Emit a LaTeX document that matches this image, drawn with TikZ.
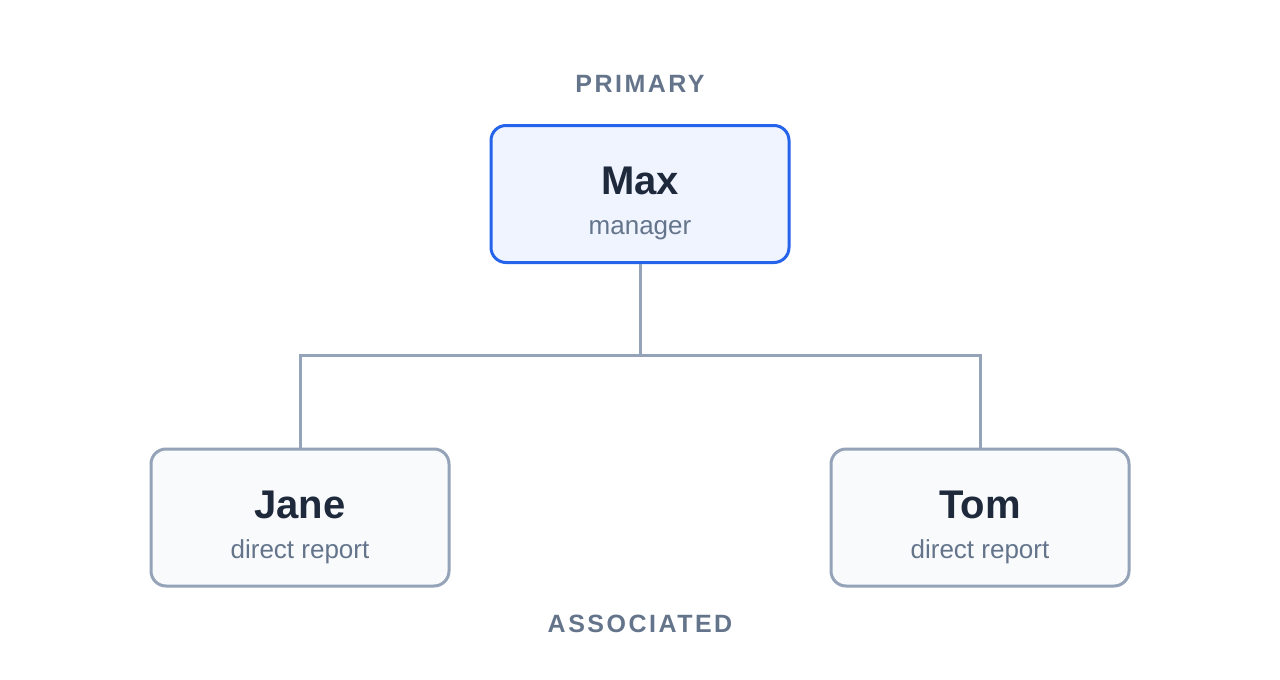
\documentclass[tikz,border=0pt]{standalone}
\usepackage{fontspec}
\setmainfont{Liberation Sans}
\newfontfamily\tagfont[LetterSpace=10]{Liberation Sans}
\usetikzlibrary{positioning}
\definecolor{edgeGray}{HTML}{94A3B8}
\definecolor{cardFill}{HTML}{F8FAFC}
\definecolor{mainBlue}{HTML}{2563EB}
\definecolor{mainFill}{HTML}{EFF4FF}
\definecolor{nameDark}{HTML}{1E293B}
\definecolor{roleGray}{HTML}{64748B}
\tikzstyle{card} = [rectangle, rounded corners=15pt, draw=edgeGray, fill=cardFill, line width=3pt, minimum width=298pt, minimum height=137pt, align=center, inner sep=0pt, font=\fontsize{26}{40}\selectfont, text=roleGray]
\tikzstyle{mainCard} = [card, draw=mainBlue, fill=mainFill]
\tikzstyle{link} = [draw=edgeGray, line width=3pt]
\tikzstyle{tag} = [font=\tagfont\bfseries\fontsize{25}{25}\selectfont, text=roleGray, anchor=base, inner sep=0pt]
\newcommand{\who}[2]{\rule{0pt}{47pt}{\fontsize{40}{40}\selectfont\bfseries\color{nameDark}#1}\\#2}

\begin{document}
\begin{tikzpicture}[x=1pt, y=-1pt]
		\useasboundingbox[fill=white] (0,0) rectangle (1280,680);
		% labels
		\node [tag](primary) at (640,92.5){PRIMARY};
		\node [tag](associated) at (640,632){ASSOCIATED};
		% cards
		\node [mainCard](max) at (640,194){\who{Max}{manager}};
		\node [card](jane) at (300,517.5){\who{Jane}{direct report}};
		\node [card](tom) at (980,517.5){\who{Tom}{direct report}};
		% links
		\draw [link] (max.south) -- ++(0,91) -| (jane.north);
		\draw [link] (max.south) ++(0,91) -| (tom.north);
		\end{tikzpicture}
\end{document}
